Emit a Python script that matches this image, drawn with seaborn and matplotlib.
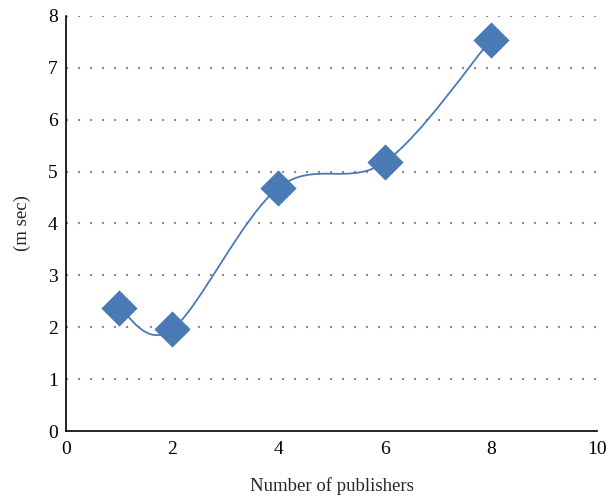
import numpy as np
import pandas as pd
import matplotlib
matplotlib.use("Agg")
import matplotlib.pyplot as plt
from matplotlib.path import Path
from matplotlib.patches import PathPatch
import seaborn as sns

publishers = [1, 2, 4, 6, 8]
latency_ms = [2.37, 1.96, 4.69, 5.18, 7.54]
x_ticks = [0, 2, 4, 6, 8, 10]
y_ticks = [0, 1, 2, 3, 4, 5, 6, 7, 8]

df = pd.DataFrame({"publishers": publishers, "latency": latency_ms})

sns.set_style("white")
plt.rcParams["font.family"] = ["Liberation Serif", "DejaVu Serif"]
plt.rcParams["lines.scale_dashes"] = False

fig = plt.figure(figsize=(6.08, 4.96), dpi=100)
ax = fig.add_axes([0.1086, 0.131, 0.8734, 0.837])

color = "#4A7AB5"

# smooth (Excel-like) curve through the points: Catmull-Rom as cubic Bezier
pts = np.column_stack([publishers, latency_ms]).astype(float)
n = len(pts)
verts = [tuple(pts[0])]
codes = [Path.MOVETO]
for i in range(n - 1):
    p0 = pts[i - 1] if i > 0 else pts[i]
    p1 = pts[i]
    p2 = pts[i + 1]
    p3 = pts[i + 2] if i + 2 < n else pts[i + 1]
    c1 = p1 + (p2 - p0) / 6.0
    c2 = p2 - (p3 - p1) / 6.0
    verts += [tuple(c1), tuple(c2), tuple(p2)]
    codes += [Path.CURVE4, Path.CURVE4, Path.CURVE4]
ax.add_patch(PathPatch(Path(verts, codes), facecolor="none", edgecolor=color,
                       lw=1.3, zorder=2))

sns.scatterplot(data=df, x="publishers", y="latency", ax=ax, marker="D",
                s=340, color=color, edgecolor=color, linewidth=0, zorder=3)

ax.set_xlim(0, 10)
ax.set_ylim(0, 8)
ax.set_xticks(x_ticks)
ax.set_yticks(y_ticks)
ax.tick_params(axis="x", length=0, labelsize=14, pad=7, colors="black")
ax.tick_params(axis="y", length=0, labelsize=14, pad=6, colors="black")

for y in y_ticks[1:]:
    ax.axhline(y, color="#8c8c8c", lw=1.5, linestyle=(0, (1.5, 7.14)), zorder=1)

for s in ["top", "right"]:
    ax.spines[s].set_visible(False)
for s in ["left", "bottom"]:
    ax.spines[s].set_color("black")
    ax.spines[s].set_linewidth(1.2)

ax.set_xlabel("Number of publishers", fontsize=13.5, labelpad=14)
ax.set_ylabel("(m sec)", fontsize=13.5, labelpad=12)

fig.savefig("out.png", dpi=100)
